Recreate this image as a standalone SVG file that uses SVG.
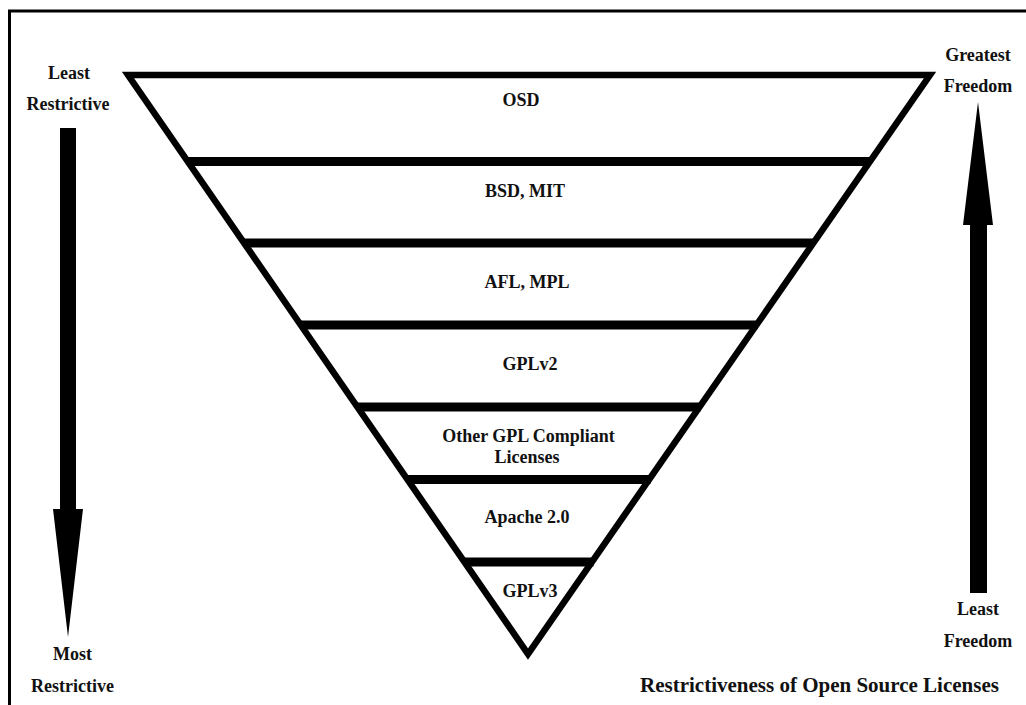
<svg xmlns="http://www.w3.org/2000/svg" width="1026" height="705" viewBox="0 0 1026 705">
  <style>
    .lbl { font-family: "Liberation Serif", "Times New Roman", serif; font-weight: bold; font-size: 18px; fill: #111; text-anchor: middle; }
    .side { font-family: "Liberation Serif", "Times New Roman", serif; font-weight: bold; font-size: 18px; fill: #111; text-anchor: middle; }
    .title { font-family: "Liberation Serif", "Times New Roman", serif; font-weight: bold; font-size: 21px; fill: #111; text-anchor: middle; }
    .div { stroke: #000; stroke-width: 9; }
    .arrow { fill: #000; }
  </style>
  <rect x="0" y="0" width="1026" height="705" fill="#fff"/>
  <rect id="frame" x="9.5" y="11" width="1030" height="710" fill="none" stroke="#000" stroke-width="3"/>

  <g id="pyramid">
    <polygon points="128,75 930,75 528,654" fill="#fff" stroke="#000" stroke-width="6.5"/>
  </g>

  <g id="connectors">
    <line class="div" x1="187.8" y1="161.5" x2="870.2" y2="161.5"/>
    <line class="div" x1="244.1" y1="243" x2="813.9" y2="243"/>
    <line class="div" x1="300.8" y1="325" x2="757.3" y2="325"/>
    <line class="div" x1="357.4" y1="407" x2="700.6" y2="407"/>
    <line class="div" x1="407.5" y1="479.5" x2="650.5" y2="479.5"/>
    <line class="div" x1="464.5" y1="562" x2="593.5" y2="562"/>
    <polygon id="arrow-down" class="arrow" points="60,128 76,128 76,509 83,509 68,637 53,509 60,509"/>
    <polygon id="arrow-up" class="arrow" points="978,102 993,225 987,225 987,593 970,593 970,225 963,225"/>
  </g>

  <g id="band-osd"><text class="lbl" x="521" y="106">OSD</text></g>
  <g id="band-bsd"><text class="lbl" x="525" y="197">BSD, MIT</text></g>
  <g id="band-afl"><text class="lbl" x="527" y="288">AFL, MPL</text></g>
  <g id="band-gplv2"><text class="lbl" x="530" y="370">GPLv2</text></g>
  <g id="band-other">
    <text class="lbl" x="528.5" y="442">Other GPL Compliant</text>
    <text class="lbl" x="527" y="463">Licenses</text>
  </g>
  <g id="band-apache"><text class="lbl" x="527" y="523">Apache 2.0</text></g>
  <g id="band-gplv3"><text class="lbl" x="530" y="597">GPLv3</text></g>

  <g id="label-least-restrictive">
    <text class="side" x="69" y="79">Least</text>
    <text class="side" x="68" y="110">Restrictive</text>
  </g>
  <g id="label-most-restrictive">
    <text class="side" x="72.5" y="660">Most</text>
    <text class="side" x="72.5" y="692">Restrictive</text>
  </g>
  <g id="label-greatest-freedom">
    <text class="side" x="978" y="61">Greatest</text>
    <text class="side" x="978" y="92">Freedom</text>
  </g>
  <g id="label-least-freedom">
    <text class="side" x="978" y="615">Least</text>
    <text class="side" x="978" y="647">Freedom</text>
  </g>
  <g id="title">
    <text class="title" x="819.5" y="692">Restrictiveness of Open Source Licenses</text>
  </g>
</svg>
